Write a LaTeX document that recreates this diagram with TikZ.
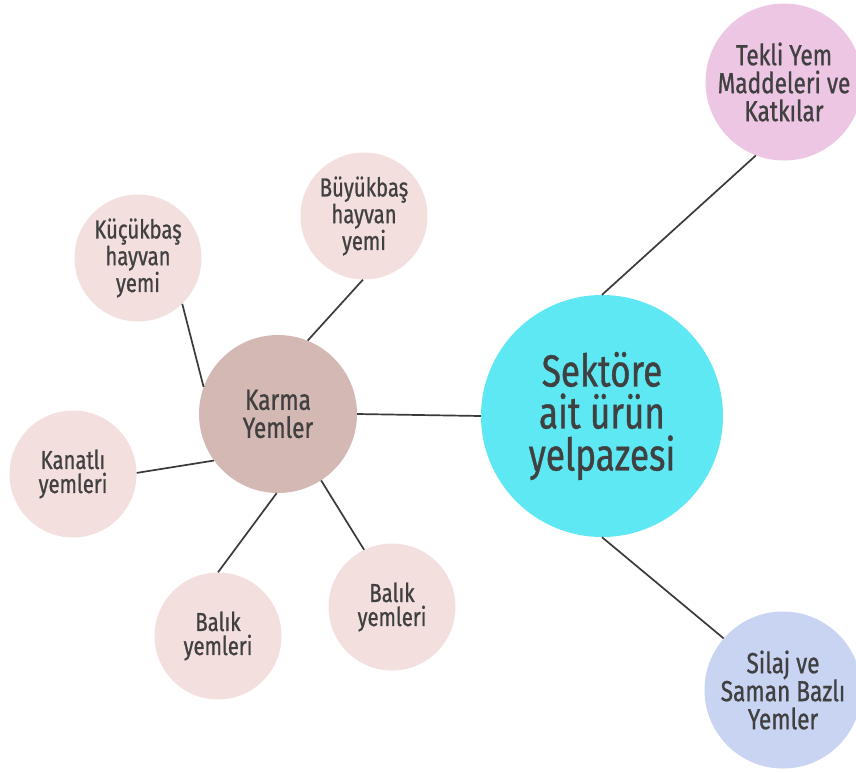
\documentclass[tikz,border=0pt]{standalone}
\usepackage{fontspec}
\setmainfont[FakeStretch=0.78,FakeBold=0.8]{Fira Sans}
\definecolor{cyanc}{RGB}{93,232,243}
\definecolor{pinkc}{RGB}{236,198,226}
\definecolor{bluec}{RGB}{200,212,242}
\definecolor{karmac}{RGB}{212,184,180}
\definecolor{leafc}{RGB}{243,224,222}
\definecolor{txt}{RGB}{64,64,64}
\definecolor{linec}{RGB}{58,58,58}
\begin{document}
\begin{tikzpicture}[x=1pt,y=-1pt,
  bubble/.style={circle,inner sep=0pt,align=center,text=txt},
  leaf/.style={bubble,fill=leafc,minimum size=127pt,font=\fontsize{26}{24}\selectfont},
  outer/.style={bubble,minimum size=157pt,font=\fontsize{29}{28}\selectfont},
  link/.style={draw=linec,line width=1.7pt}]
\useasboundingbox (0,0) rectangle (856,772);
\node[bubble,fill=cyanc,minimum size=242pt,font=\fontsize{45}{42}\selectfont] (central) at (602,416) {Sektöre\\ait ürün\\yelpazesi};
\node[outer,fill=pinkc] (tekli) at (784,82) {Tekli Yem\\Maddeleri ve\\Katkılar};
\node[outer,fill=bluec] (silaj) at (783,690) {Silaj ve\\Saman Bazlı\\Yemler};
\node[bubble,fill=karmac,minimum size=158pt,font=\fontsize{29}{28}\selectfont] (karma) at (278,414) {Karma\\Yemler};
\node[leaf] (buyuk) at (364,216) {Büyükbaş\\hayvan\\yemi};
\node[leaf] (kucuk) at (138,258) {Küçükbaş\\hayvan\\yemi};
\node[leaf] (kanatli) at (73,474) {Kanatlı\\yemleri};
\node[leaf] (balikL) at (218,636) {Balık\\yemleri};
\node[leaf] (balikR) at (392,607) {Balık\\yemleri};
\draw[link] (karma.68) -- (buyuk.-91);
\draw[link] (karma.160) -- (kucuk.-46);
\draw[link] (karma.-144) -- (kanatli.1);
\draw[link] (karma.-91) -- (balikL.90);
\draw[link] (karma.-57) -- (balikR.116);
\draw[link] (karma.0) -- (central.180);
\draw[link] (central.90) -- (tekli.-111);
\draw[link] (central.-90) -- (silaj.139);
\end{tikzpicture}
\end{document}
